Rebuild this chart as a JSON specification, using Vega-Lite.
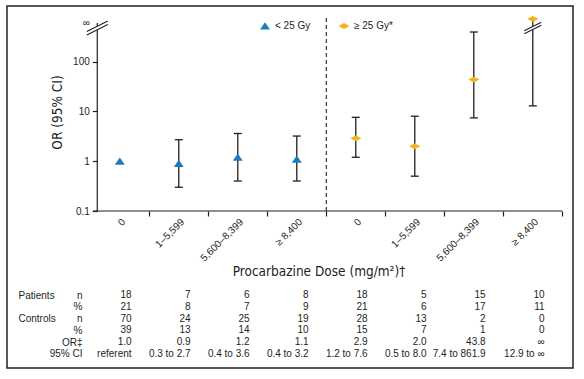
{
  "$schema": "https://vega.github.io/schema/vega-lite/v6.json",
  "width": 566,
  "height": 362,
  "autosize": {"type": "none"},
  "padding": {"left": 7, "top": 6, "right": 11, "bottom": 11},
  "background": "white",
  "config": {
    "font": "Liberation Sans",
    "view": {"stroke": "#231f20", "strokeWidth": 1.5},
    "axis": {"grid": false, "labelFont": "Liberation Sans", "labelFontSize": 10, "labelColor": "#231f20", "titleFont": "DejaVu Sans Condensed, Liberation Sans", "titleFontWeight": "normal", "titleColor": "#231f20", "tickColor": "#231f20", "domainColor": "#231f20"},
    "text": {"font": "Liberation Sans", "fontSize": 10, "color": "#231f20"}
  },
  "data": {"values": [
    {"col": "<25|0", "group": "< 25 Gy", "or": 1.0, "pn": "18", "pp": "21", "cn": "70", "cp": "39", "ort": "1.0", "ci": "referent"},
    {"col": "<25|1–5,599", "group": "< 25 Gy", "or": 0.9, "lo": 0.3, "hi": 2.7, "pn": "7", "pp": "8", "cn": "24", "cp": "13", "ort": "0.9", "ci": "0.3 to 2.7"},
    {"col": "<25|5,600–8,399", "group": "< 25 Gy", "or": 1.2, "lo": 0.4, "hi": 3.6, "pn": "6", "pp": "7", "cn": "25", "cp": "14", "ort": "1.2", "ci": "0.4 to 3.6"},
    {"col": "<25|≥ 8,400", "group": "< 25 Gy", "or": 1.1, "lo": 0.4, "hi": 3.2, "pn": "8", "pp": "9", "cn": "19", "cp": "10", "ort": "1.1", "ci": "0.4 to 3.2"},
    {"col": "≥25|0", "group": "≥ 25 Gy*", "or": 2.9, "lo": 1.2, "hi": 7.6, "pn": "18", "pp": "21", "cn": "28", "cp": "15", "ort": "2.9", "ci": "1.2 to 7.6"},
    {"col": "≥25|1–5,599", "group": "≥ 25 Gy*", "or": 2.0, "lo": 0.5, "hi": 8.0, "pn": "5", "pp": "6", "cn": "13", "cp": "7", "ort": "2.0", "ci": "0.5 to 8.0"},
    {"col": "≥25|5,600–8,399", "group": "≥ 25 Gy*", "or": 43.8, "lo": 7.4, "hi": 393, "pn": "15", "pp": "17", "cn": "2", "cp": "1", "ort": "43.8", "ci": "7.4 to 861.9"},
    {"col": "≥25|≥ 8,400", "group": "≥ 25 Gy*", "or": 717, "lo": 12.9, "hi": 717, "open": true, "pn": "10", "pp": "11", "cn": "0", "cp": "0", "ort": "∞", "ci": "12.9 to ∞"}
  ]},
  "encoding": {
    "x": {
      "field": "col", "type": "nominal",
      "scale": {"type": "band", "domain": ["<25|0", "<25|1–5,599", "<25|5,600–8,399", "<25|≥ 8,400", "≥25|0", "≥25|1–5,599", "≥25|5,600–8,399", "≥25|≥ 8,400"], "paddingInner": 0, "paddingOuter": 0.7966, "align": 0.886},
      "axis": {
        "title": "Procarbazine Dose (mg/m²)†", "titleFontSize": 13.5, "titleX": 311.5, "titleY": 60, "titleAlign": "center", "titleBaseline": "middle",
        "bandPosition": 1, "labelExpr": "split(datum.value, '|')[1]", "labelAngle": -45, "labelAlign": "right", "labelBaseline": "middle",
        "labelOffset": 4, "labelPadding": 4, "labelOverlap": false, "tickSize": 5, "tickWidth": 1.2, "domain": false, "offset": -157
      }
    }
  },
  "layer": [
    {
      "layer": [
        {
          "transform": [{"filter": "isValid(datum.lo)"}],
          "mark": {"type": "rule", "color": "#231f20", "strokeWidth": 1.3},
          "encoding": {
            "y": {
              "field": "lo", "type": "quantitative",
              "scale": {"type": "log", "domain": [0.00007038, 1307.7], "nice": false},
              "axis": {
                "values": [0.1, 1, 10, 100, 620],
                "labelExpr": "datum.value > 500 ? '∞' : datum.value < 1 ? '0.1' : format(datum.value, 'd')",
                "offset": -90.3, "domain": false, "tickSize": 5, "tickWidth": 1.2,
                "tickOpacity": {"condition": {"test": "datum.value > 500", "value": 0}, "value": 1},
                "labelPadding": 3, "title": "OR (95% CI)", "titleFontSize": 13.5, "titleX": -40, "titleY": 106,
                "titleAngle": -90, "titleAlign": "center", "titleBaseline": "middle"
              }
            },
            "y2": {"field": "hi"}
          }
        },
        {
          "data": {"values": [{}]},
          "mark": {"type": "rule", "color": "#231f20", "strokeWidth": 1.2},
          "encoding": {
            "x": {"datum": "<25|0", "bandPosition": 0.1186},
            "y": {"datum": 0.1, "type": "quantitative"},
            "y2": {"datum": 596}
          }
        },
        {
          "data": {"values": [{}]},
          "mark": {"type": "rule", "color": "#231f20", "strokeWidth": 1.2},
          "encoding": {
            "x": {"datum": "<25|0", "bandPosition": 0.046},
            "x2": {"datum": "≥25|≥ 8,400", "bandPosition": 1},
            "y": {"datum": 0.1, "type": "quantitative"}
          }
        },
        {
          "data": {"values": [{}]},
          "mark": {"type": "rule", "color": "#231f20", "strokeWidth": 1.1, "strokeDash": [4, 3]},
          "encoding": {
            "x": {"datum": "≥25|0", "bandPosition": 0},
            "y": {"datum": 0.1, "type": "quantitative"},
            "y2": {"datum": 751}
          }
        },
        {
          "data": {"values": [{}]},
          "mark": {"type": "point", "shape": "M-1,0.33 L1,-0.67 L1,-0.33 L-1,0.67 Z", "size": 441, "filled": true, "fill": "white", "strokeWidth": 0, "opacity": 1},
          "encoding": {
            "x": {"datum": "<25|0", "bandPosition": 0.1186},
            "y": {"datum": 473, "type": "quantitative"}
          }
        },
        {
          "data": {"values": [{}]},
          "mark": {"type": "point", "shape": "M-1,0.33 L1,-0.67 M-1,0.67 L1,-0.33", "size": 441, "filled": false, "stroke": "#231f20", "strokeWidth": 1.1, "opacity": 1},
          "encoding": {
            "x": {"datum": "<25|0", "bandPosition": 0.1186},
            "y": {"datum": 473, "type": "quantitative"}
          }
        },
        {
          "data": {"values": [{}]},
          "mark": {"type": "point", "shape": "M-1,0.33 L1,-0.67 L1,-0.33 L-1,0.67 Z", "size": 289, "filled": true, "fill": "white", "strokeWidth": 0, "opacity": 1},
          "encoding": {
            "x": {"datum": "≥25|≥ 8,400"},
            "y": {"datum": 473, "type": "quantitative"}
          }
        },
        {
          "data": {"values": [{}]},
          "mark": {"type": "point", "shape": "M-1,0.33 L1,-0.67 M-1,0.67 L1,-0.33", "size": 289, "filled": false, "stroke": "#231f20", "strokeWidth": 1.1, "opacity": 1},
          "encoding": {
            "x": {"datum": "≥25|≥ 8,400"},
            "y": {"datum": 473, "type": "quantitative"}
          }
        },
        {
          "transform": [{"filter": "isValid(datum.lo)"}],
          "mark": {"type": "tick", "orient": "horizontal", "size": 8, "thickness": 1.3, "color": "#231f20", "opacity": 1},
          "encoding": {"y": {"field": "lo", "type": "quantitative"}}
        },
        {
          "transform": [{"filter": "isValid(datum.hi) && !datum.open"}],
          "mark": {"type": "tick", "orient": "horizontal", "size": 8, "thickness": 1.3, "color": "#231f20", "opacity": 1},
          "encoding": {"y": {"field": "hi", "type": "quantitative"}}
        },
        {
          "mark": {"type": "point", "filled": true, "size": 100, "opacity": 1, "strokeWidth": 0},
          "encoding": {
            "y": {"field": "or", "type": "quantitative"},
            "color": {
              "field": "group", "type": "nominal",
              "scale": {"domain": ["< 25 Gy", "≥ 25 Gy*"], "range": ["#1b7bc0", "#f0b41c"]},
              "legend": {"orient": "none", "legendX": 253, "legendY": 15, "direction": "horizontal", "title": null, "symbolStrokeWidth": 0, "columnPadding": 27, "labelOffset": 5, "padding": 0, "labelFontSize": 10, "labelColor": "#231f20", "symbolSize": 100}
            },
            "shape": {
              "field": "group", "type": "nominal",
              "scale": {"domain": ["< 25 Gy", "≥ 25 Gy*"], "range": ["M-1,0.7 L1,0.7 L0,-0.75 Z", "M-1.1,0 L0,-0.6 L1.1,0 L0,0.6 Z"]},
              "legend": {"orient": "none", "legendX": 253, "legendY": 15, "direction": "horizontal", "title": null, "symbolStrokeWidth": 0, "columnPadding": 27, "labelOffset": 5, "padding": 0, "labelFontSize": 10, "labelColor": "#231f20", "symbolSize": 100}
            }
          }
        }
      ]
    },
    {
      "transform": [{"fold": ["pn", "pp", "cn", "cp", "ort", "ci"], "as": ["row", "value"]}],
      "mark": {"type": "text", "align": "right", "baseline": "middle", "fontSize": 10},
      "encoding": {
        "x": {"field": "col", "type": "nominal", "bandPosition": 0.7},
        "y": {
          "field": "row", "type": "ordinal",
          "scale": {"type": "point", "domain": ["pn", "pp", "cn", "cp", "ort", "ci"], "range": [289, 347.75], "padding": 0},
          "axis": {"orient": "left", "offset": -75, "domain": false, "ticks": false, "tickSize": 0, "labelPadding": 0, "title": null, "labelAlign": "right", "labelBaseline": "middle",
            "labelExpr": "['n','%','n','%','OR‡','95% CI'][indexof(['pn','pp','cn','cp','ort','ci'], datum.value)]"}
        },
        "text": {"field": "value"}
      }
    },
    {
      "transform": [{"fold": ["pn", "cn"], "as": ["row", "value"]}],
      "mark": {"type": "text", "text": ""},
      "encoding": {
        "y": {
          "field": "row", "type": "ordinal",
          "scale": {"type": "point", "domain": ["pn", "pp", "cn", "cp", "ort", "ci"], "range": [289, 347.75], "padding": 0},
          "axis": {"orient": "left", "offset": -11, "domain": false, "ticks": false, "tickSize": 0, "labelPadding": 0, "title": null, "labelAlign": "left", "labelBaseline": "middle",
            "labelExpr": "datum.value == 'pn' ? 'Patients' : datum.value == 'cn' ? 'Controls' : ''"}
        }
      }
    }
  ],
  "resolve": {"scale": {"y": "independent"}, "axis": {"y": "independent"}}
}
